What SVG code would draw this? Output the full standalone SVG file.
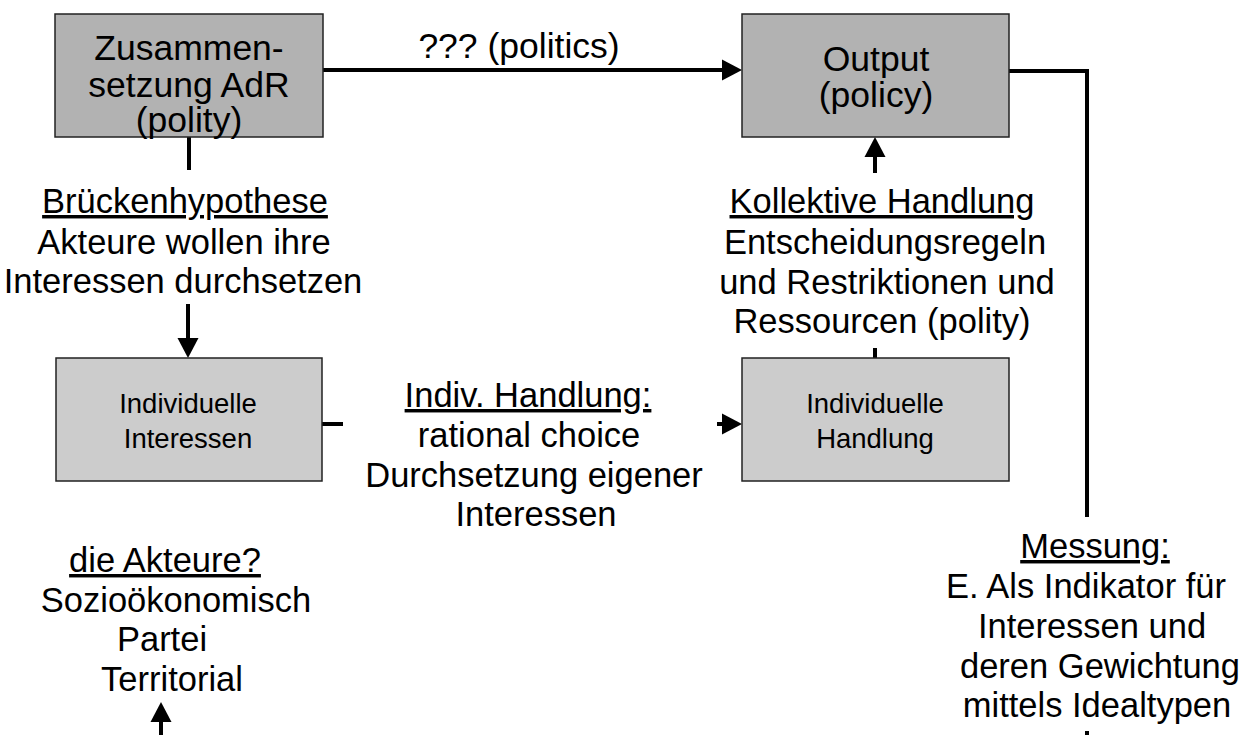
<svg xmlns="http://www.w3.org/2000/svg" width="1251" height="735" viewBox="0 0 1251 735">
<style>
text{font-family:"Liberation Sans",Arial,sans-serif;fill:#000;text-anchor:middle}
.big{font-size:35.5px}
.lbl{font-size:34.5px}
.small{font-size:27.5px}
.u{text-decoration:underline}
.dark{fill:#b2b2b2;stroke:#222;stroke-width:1.5}
.light{fill:#cccccc;stroke:#222;stroke-width:1.5}
.c{stroke:#000;stroke-width:4;fill:none}
</style>
<defs>
<marker id="ah" markerUnits="userSpaceOnUse" markerWidth="22" markerHeight="22" viewBox="0 -11 22 22" refX="0" refY="0" orient="auto" overflow="visible">
<path d="M0,-10.5 L20,0 L0,10.5 z" fill="#000"/>
</marker>
</defs>
<rect width="1251" height="735" fill="#fff"/>
<g id="connectors">
<line class="c" x1="323" y1="70" x2="722" y2="70" marker-end="url(#ah)"/>
<line class="c" x1="875" y1="173" x2="875" y2="157" marker-end="url(#ah)"/>
<line class="c" x1="188" y1="304" x2="188" y2="338" marker-end="url(#ah)"/>
<line class="c" x1="717" y1="424" x2="722" y2="424" marker-end="url(#ah)"/>
<line class="c" x1="161" y1="735" x2="161" y2="722" marker-end="url(#ah)"/>
<line class="c" x1="189" y1="137" x2="189" y2="170"/>
<line class="c" x1="322" y1="424" x2="343" y2="424"/>
<polyline class="c" points="1009,71 1087,71 1087,517"/>
<line class="c" x1="1087" y1="731" x2="1087" y2="735"/>
<line class="c" x1="875" y1="348" x2="875" y2="358"/>
</g>
<g id="zusammensetzung">
<rect class="dark" x="55" y="14" width="268" height="123"/>
<text class="big" x="189" y="60">Zusammen-</text>
<text class="big" x="189" y="97">setzung AdR</text>
<text class="big" x="189" y="132">(polity)</text>
</g>
<g id="output">
<rect class="dark" x="742" y="14" width="267" height="123"/>
<text class="big" x="876" y="71">Output</text>
<text class="big" x="876" y="107">(policy)</text>
</g>
<g id="individuelle-interessen">
<rect class="light" x="56" y="358" width="266" height="123"/>
<text class="small" x="188" y="413">Individuelle</text>
<text class="small" x="188" y="448">Interessen</text>
</g>
<g id="individuelle-handlung">
<rect class="light" x="742" y="358" width="267" height="123"/>
<text class="small" x="875" y="413">Individuelle</text>
<text class="small" x="875" y="448">Handlung</text>
</g>
<g id="label-politics">
<text class="big" x="519" y="58">??? (politics)</text>
</g>
<g id="label-brueckenhypothese">
<text class="lbl u" x="185" y="213">Brückenhypothese</text>
<text class="lbl" x="184" y="254">Akteure wollen ihre</text>
<text class="lbl" x="183" y="293">Interessen durchsetzen</text>
</g>
<g id="label-kollektive">
<text class="lbl u" x="882" y="213">Kollektive Handlung</text>
<text class="lbl" x="885" y="254">Entscheidungsregeln</text>
<text class="lbl" x="887" y="294">und Restriktionen und</text>
<text class="lbl" x="882" y="333">Ressourcen (polity)</text>
</g>
<g id="label-indiv">
<text class="lbl u" x="528" y="407">Indiv. Handlung:</text>
<text class="lbl" x="529" y="447">rational choice</text>
<text class="lbl" x="534" y="487">Durchsetzung eigener</text>
<text class="lbl" x="536" y="526">Interessen</text>
</g>
<g id="label-akteure">
<text class="lbl u" x="165" y="572">die Akteure?</text>
<text class="lbl" x="176" y="612">Sozioökonomisch</text>
<text class="lbl" x="162" y="651">Partei</text>
<text class="lbl" x="172" y="691">Territorial</text>
</g>
<g id="label-messung">
<text class="lbl u" x="1095" y="558">Messung:</text>
<text class="lbl" x="1086" y="598">E. Als Indikator für</text>
<text class="lbl" x="1092" y="638">Interessen und</text>
<text class="lbl" x="1100" y="678">deren Gewichtung</text>
<text class="lbl" x="1097" y="717">mittels Idealtypen</text>
</g>
</svg>
